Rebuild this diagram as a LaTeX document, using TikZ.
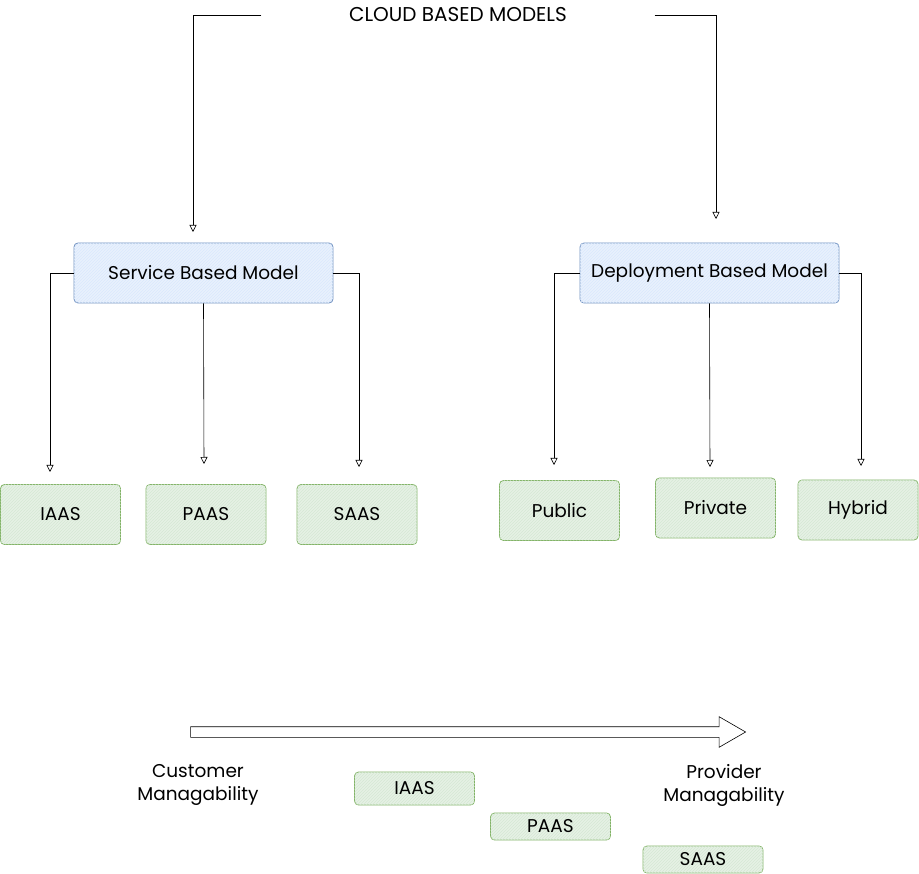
\documentclass[tikz,border=0pt]{standalone}
\usepackage{fontspec}
\setmainfont{Poppins}
\usetikzlibrary{arrows.meta,patterns,shapes.arrows}

\definecolor{bluefill}{HTML}{DAE8FC}
\definecolor{blueline}{HTML}{6C8EBF}
\definecolor{greenfill}{HTML}{D5E8D4}
\definecolor{greenline}{HTML}{82B366}

\tikzset{
  model/.style={draw=blueline,fill=bluefill!60,rounded corners=4pt,line width=0.8pt,
    minimum width=259pt,minimum height=60pt,
    postaction={pattern=north east lines,pattern color=bluefill}},
  kind/.style={draw=greenline,fill=greenfill!60,rounded corners=4pt,line width=0.8pt,
    minimum width=120pt,minimum height=60pt,
    postaction={pattern=north east lines,pattern color=greenfill}},
  tag/.style={kind,minimum height=30pt},
  link/.style={-{Triangle[open,length=7pt,width=7pt]},line width=0.6pt},
}

\begin{document}
\begin{tikzpicture}[x=1pt,y=-1pt,font=\fontsize{18.5}{23}\selectfont]
  \useasboundingbox (0,0) rectangle (919,874);

  % root
  \node[minimum width=393pt,font=\fontsize{20}{24}\selectfont] (cloud) at (458,15) {CLOUD BASED MODELS};
  \coordinate (c1) at (193,232);
  \coordinate (c2) at (716,219);

  % level 0
  \node[model] (svc) at (203.5,273) {Service Based Model};
  \node[model] (dep) at (709.5,273) {Deployment Based Model};
  \coordinate (s1) at (50,472);
  \coordinate (s2) at (204,464);
  \coordinate (s3) at (359,467);
  \coordinate (d1) at (554,465);
  \coordinate (d2) at (710,467);
  \coordinate (d3) at (861,466);

  % level 1
  \node[kind] (iaas) at (60.5,514.5) {IAAS};
  \node[kind] (paas) at (206,514.5) {PAAS};
  \node[kind] (saas) at (357,514.5) {SAAS};
  \node[kind] (pub) at (559.5,510.5) {Public};
  \node[kind] (priv) at (715.5,508) {Private};
  \node[kind] (hyb) at (858,510) {Hybrid};

  % scale
  \node[single arrow,draw,line width=0.6pt,minimum height=555pt,
    inner xsep=0pt,inner ysep=5pt,text height=0pt,text depth=0pt,
    single arrow head extend=10pt,single arrow tip angle=60] (range) at (463.5,732) {};
  \node[align=center] (cust) at (198,785) {Customer\\Managability};
  \node[align=center] (prov) at (724,785) {Provider\\Managability};
  \node[tag,minimum height=33pt] (iaas2) at (414.5,788.5) {IAAS};
  \node[tag,minimum height=27pt] (paas2) at (550.5,826.5) {PAAS};
  \node[tag,minimum height=27pt] (saas2) at (703,859.5) {SAAS};

  % root
  \draw[link] (cloud.west) -| (c1);
  \draw[link] (cloud.east) -| (c2);

  % level 0
  \draw[link] (svc.west) -| (s1);
  \draw[link] (svc.south) -- (s2);
  \draw[link] (svc.east) -| (s3);
  \draw[link] (dep.west) -| (d1);
  \draw[link] (dep.south) -- (d2);
  \draw[link] (dep.east) -| (d3);
\end{tikzpicture}
\end{document}
